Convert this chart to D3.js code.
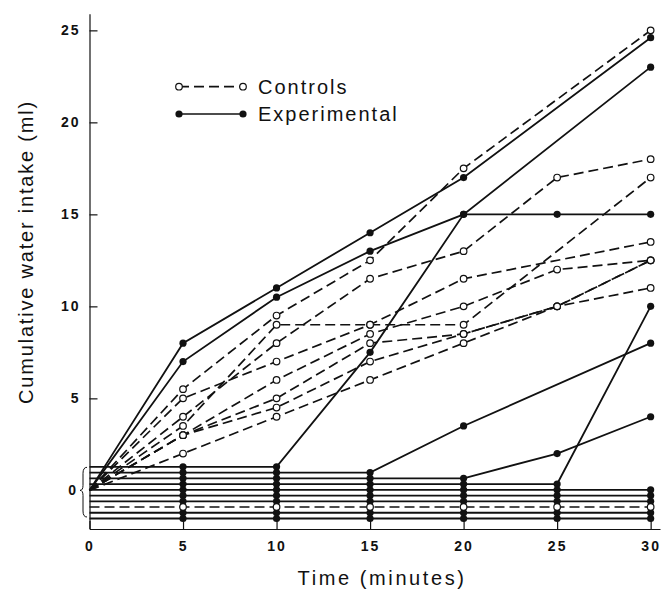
<!DOCTYPE html>
<html>
<head>
<meta charset="utf-8">
<script src="https://cdn.jsdelivr.net/npm/d3@7"></script>
<style>
  body { margin: 0; background: #fff; }
  svg { display: block; }
  text { font-family: "Liberation Sans", Arial, sans-serif; fill: #111; }
</style>
</head>
<body>
<div id="chart"></div>
<script>
const times = [0, 5, 10, 15, 20, 25, 30];
const xTicks = [0, 5, 10, 15, 20, 25, 30];
const yTicks = [5, 10, 15, 20, 25];

// controls, ml drunk so far (null = no point plotted at that time)
const c1 = [0, 5.5, 9.5, 12.5, 17.5, null, 25];
const c2 = [0, 4, 8, 11.5, 13, 17, 18];
const c3 = [0, 3.5, 9, 9, 9, null, 17];
const c4 = [0, 5, 7, 9, 11.5, null, 13.5];
const c5 = [0, 3, 6, 8.5, 10, 12, 12.5];
const c6 = [0, 3, 5, 8, 8.5, 10, 12.5];
const c7 = [0, 3, 4.5, 7, 8.5, 10, 12.5];
const c8 = [0, 2, 4, 6, 8, 10, 11];
const c9 = [0, 0, 0, 0, 0, 0, 0];

// experimental
const e1 = [0, 8, 11, 14, 17, null, 24.6];
const e2 = [0, 7, 10.5, 13, 15, null, 23];
const e3 = [0, 0, 0, 7.5, 15, 15, 15];
const e4 = [0, 0, 0, 0, 3.5, null, 8];
const e5 = [0, 0, 0, 0, 0, 2, 4];
const e6 = [0, 0, 0, 0, 0, 0, 10];
const e7 = [0, 0, 0, 0, 0, 0, 0];
const e8 = [0, 0, 0, 0, 0, 0, 0];
const e9 = [0, 0, 0, 0, 0, 0, 0];
const e10 = [0, 0, 0, 0, 0, 0, 0];
const e11 = [0, 0, 0, 0, 0, 0, 0];

// animals not yet drinking are spread out inside the bracket at 0, top to bottom
const zeroOrder = ["e3", "e4", "e5", "e6", "e7", "e8", "e9", "c9", "e10", "e11"];

const series = [
  ["c1", c1], ["c2", c2], ["c3", c3], ["c4", c4], ["c5", c5],
  ["c6", c6], ["c7", c7], ["c8", c8], ["c9", c9]
].map(([id, v]) => ({id, control: true, values: v}))
 .concat([
  ["e1", e1], ["e2", e2], ["e3", e3], ["e4", e4], ["e5", e5], ["e6", e6],
  ["e7", e7], ["e8", e8], ["e9", e9], ["e10", e10], ["e11", e11]
].map(([id, v]) => ({id, control: false, values: v})));

const width = 661, height = 593;
const ink = "#111";
const dash = "10,5";

const svg = d3.select("#chart").append("svg")
  .attr("width", width)
  .attr("height", height);

const x = d3.scaleLinear().domain([0, 30.5]).range([89.5, 660]);
const y = d3.scaleLinear().domain([-2.1, 25.9]).range([529, 13.8]);
const yZero = d3.scalePoint().domain(zeroOrder).range([y(1.28), y(-1.53)]);

function pts(s) {
  const inZero = zeroOrder.includes(s.id);
  return times.map((t, i) => ({t, v: s.values[i], i}))
    .filter(d => d.v != null)
    .map(d => ({...d, py: (inZero && d.v === 0) ? yZero(s.id) : y(d.v)}));
}

// axes
const xAxis = svg.append("g")
  .attr("transform", `translate(0,${y.range()[0]})`)
  .call(d3.axisBottom(x).tickValues(xTicks).tickSizeInner(-8).tickSizeOuter(0).tickPadding(12));

const yAxis = svg.append("g")
  .attr("transform", `translate(${x(0)},0)`)
  .call(d3.axisLeft(y).tickValues(yTicks).tickSizeInner(-8).tickSizeOuter(0).tickPadding(9));

[xAxis, yAxis].forEach(g => {
  g.attr("font-family", null).attr("font-size", null);
  g.selectAll("path, line").attr("stroke", ink).attr("stroke-width", 1.2);
  g.selectAll("text")
    .style("font-size", "14px")
    .style("font-weight", "bold")
    .style("letter-spacing", "2px")
    .attr("fill", ink);
});

// "0" with the brace
svg.append("text")
  .attr("x", 76)
  .attr("y", y(0))
  .attr("dy", "0.35em")
  .attr("text-anchor", "end")
  .style("font-size", "14px")
  .style("font-weight", "bold")
  .text("0");

const bt = yZero.range()[0] + 0.5, bb = yZero.range()[1] - 1.5, bm = y(0);
svg.append("path")
  .attr("d", `M87,${bt} Q83,${bt} 83,${bt + 6} L83,${bm - 5} Q83,${bm} 80,${bm}` +
             ` Q83,${bm} 83,${bm + 5} L83,${bb - 6} Q83,${bb} 87,${bb}`)
  .attr("fill", "none")
  .attr("stroke", ink)
  .attr("stroke-width", 1);

// lines
const line = d3.line().x(d => x(d.t)).y(d => d.py);

svg.append("g").selectAll("path")
  .data(series)
  .join("path")
  .attr("d", d => line(pts(d)))
  .attr("fill", "none")
  .attr("stroke", ink)
  .attr("stroke-width", d => d.control ? 1.7 : 1.8)
  .attr("stroke-dasharray", d => d.control ? dash : null);

// markers
const marks = series.flatMap(s => pts(s).filter(d => d.t > 0).map(d => ({...d, control: s.control})));

svg.append("g").selectAll("circle")
  .data(marks.filter(d => !d.control))
  .join("circle")
  .attr("cx", d => x(d.t))
  .attr("cy", d => d.py)
  .attr("r", 3.6)
  .attr("fill", ink);

svg.append("g").selectAll("circle")
  .data(marks.filter(d => d.control))
  .join("circle")
  .attr("cx", d => x(d.t))
  .attr("cy", d => d.py)
  .attr("r", 3.3)
  .attr("fill", "#fff")
  .attr("stroke", ink)
  .attr("stroke-width", 1.2);

// legend
const legend = svg.append("g");
const legendItems = [
  {label: "Controls", control: true, y: 86.7},
  {label: "Experimental", control: false, y: 114}
];
legendItems.forEach(it => {
  legend.append("line")
    .attr("x1", 179).attr("x2", 243)
    .attr("y1", it.y).attr("y2", it.y)
    .attr("stroke", ink)
    .attr("stroke-width", 1.7)
    .attr("stroke-dasharray", it.control ? dash : null);
  [179, 243].forEach(cx => {
    legend.append("circle")
      .attr("cx", cx).attr("cy", it.y)
      .attr("r", it.control ? 3.3 : 3.6)
      .attr("fill", it.control ? "#fff" : ink)
      .attr("stroke", ink)
      .attr("stroke-width", it.control ? 1.2 : 0);
  });
  legend.append("text")
    .attr("x", 258)
    .attr("y", it.y)
    .attr("dy", "0.36em")
    .style("font-size", "20px")
    .style("letter-spacing", "2px")
    .text(it.label);
});

// axis titles
svg.append("text")
  .attr("x", (x(0) + x(30)) / 2 + 12)
  .attr("y", 585)
  .attr("text-anchor", "middle")
  .style("font-size", "20px")
  .style("letter-spacing", "2.6px")
  .text("Time (minutes)");

svg.append("text")
  .attr("transform", `translate(33,252) rotate(-90)`)
  .attr("text-anchor", "middle")
  .style("font-size", "20px")
  .style("letter-spacing", "1.8px")
  .text("Cumulative water intake (ml)");
</script>
</body>
</html>
